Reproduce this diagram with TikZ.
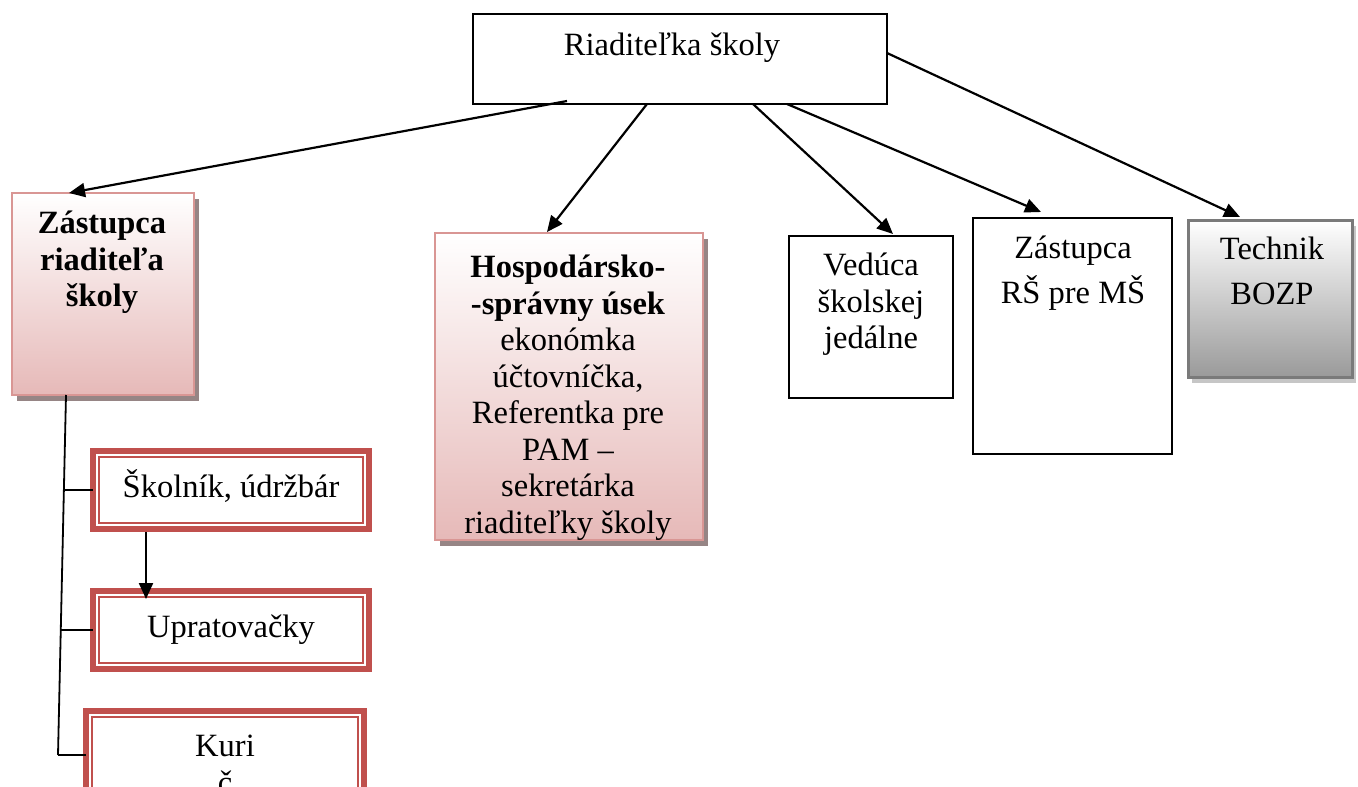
\documentclass[tikz,border=0pt]{standalone}
\usepackage{fontspec}
\setmainfont{Liberation Serif}
\usetikzlibrary{shadows,arrows.meta,calc}
\definecolor{pinkb}{HTML}{D99694}
\definecolor{pinkf}{HTML}{E6B9B8}
\definecolor{redb}{HTML}{C0504D}
\definecolor{grayb}{HTML}{7A7A7A}
\definecolor{grayf}{HTML}{9A9A9A}
\begin{document}
\begin{tikzpicture}[x=1pt,y=-1pt,
  every node/.style={inner sep=0pt,outer sep=0pt},
  txt/.style={font=\fontsize{32.5}{36.5}\selectfont,align=center},
  wtxt/.style={font=\fontsize{32.5}{45}\selectfont,align=center},
  plainbox/.style={draw=black,line width=1.6pt,fill=white},
  pinkbox/.style={draw=pinkb,line width=2.2pt,top color=white,bottom color=pinkf,
    drop shadow={shadow xshift=5pt,shadow yshift=-6pt,fill=gray!75!pinkb,opacity=1}},
  graybox/.style={draw=grayb,line width=3pt,top color=white,bottom color=grayf,
    drop shadow={shadow xshift=4pt,shadow yshift=-6pt,fill=gray!45,opacity=1}},
  redbox/.style={draw=redb,line width=6pt,fill=white},
  inner/.style={draw=redb,line width=1.5pt},
  arr/.style={-{Triangle[length=16pt,width=14pt]},line width=2.2pt},
  ln/.style={line width=1.8pt}]
\useasboundingbox (0,0) rectangle (1358,787);

% boxes
\node[plainbox,minimum width=414pt,minimum height=90pt] (top) at (680,59) {};
\node[pinkbox,minimum width=182pt,minimum height=202pt] (zr) at (103,294) {};
\node[pinkbox,minimum width=268pt,minimum height=307pt] (hosp) at (569,386.5) {};
\node[plainbox,minimum width=164pt,minimum height=162pt] (ved) at (871,317) {};
\node[plainbox,minimum width=199pt,minimum height=236pt] (zrs) at (1072.5,336) {};
\node[graybox,minimum width=164pt,minimum height=157pt] (tech) at (1270,298.5) {};
\node[redbox,minimum width=276pt,minimum height=78pt] (skol) at (231,490) {};
\node[redbox,minimum width=276pt,minimum height=78pt] (upr) at (231,630) {};
\node[redbox,minimum width=278pt,minimum height=130pt] (kuri) at (225,776) {};
\foreach \b in {skol,upr,kuri}
  \draw[inner] ([shift={(6pt,6pt)}]\b.south west) rectangle ([shift={(-6pt,-6pt)}]\b.north east);

% texts
\node[txt,anchor=base] (ttop) at (672,55) {Riaditeľka školy};
\node[txt,anchor=north,font=\fontsize{32.5}{36.5}\selectfont\bfseries] (tzr) at (102,211) {Zástupca\\riaditeľa\\školy};
\node[txt,anchor=north] (thosp) at (568,255) {\textbf{Hospodársko-}\\\textbf{-správny úsek}\\ekonómka\\účtovníčka,\\Referentka pre\\PAM --\\sekretárka\\riaditeľky školy};
\node[txt,anchor=north] (tved) at (871,253) {Vedúca\\školskej\\jedálne};
\node[wtxt,anchor=north] (tzrs) at (1073,236) {Zástupca\\RŠ pre MŠ};
\node[wtxt,anchor=north] (ttech) at (1272,237) {Technik\\BOZP};
\node[txt,anchor=base] (tskol) at (231,497) {Školník, údržbár};
\node[txt,anchor=base] (tupr) at (231,637) {Upratovačky};
\node[txt,anchor=north] (tkuri) at (225,735) {Kuri\\č};

% connectors from director
\draw[arr] ([xshift=94pt,yshift=3pt]top.south west) -- ([xshift=57pt]zr.north west);
\draw[arr] ([xshift=174pt]top.south west) -- ([xshift=112pt,yshift=1pt]hosp.north west);
\draw[arr] ([xshift=280pt]top.south west) -- ([xshift=104pt,yshift=2pt]ved.north west);
\draw[arr] ([xshift=314pt]top.south west) -- ([xshift=68pt,yshift=6pt]zrs.north west);
\draw[arr] ([yshift=6pt]top.east) -- ([xshift=52pt,yshift=3pt]tech.north west);

% left branch
\coordinate (v1) at (63,490);
\coordinate (v2) at (60,630);
\coordinate (v3) at (58,755);
\draw[ln] ([xshift=54pt]zr.south west) -- (v3);
\draw[ln] (v1) -- (v1 -| skol.west);
\draw[ln] (v2) -- (v2 -| upr.west);
\draw[ln] (v3) -- (v3 -| kuri.west);
\draw[arr] ([xshift=53pt,yshift=-3pt]skol.south west) -- ([xshift=53pt,yshift=-8pt]upr.north west);
\end{tikzpicture}
\end{document}
